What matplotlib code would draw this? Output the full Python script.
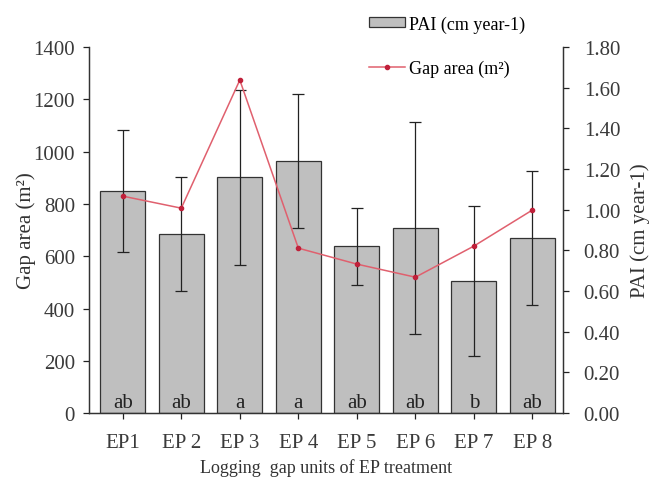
import numpy as np
import matplotlib
matplotlib.use("Agg")
import matplotlib.pyplot as plt

plt.rcParams["font.family"] = ["Liberation Serif", "DejaVu Serif"]
plt.rcParams["font.size"] = 13

# PAI per gap unit (bars, right axis) with error bars, and gap area (line, left axis)
units = ["EP1", "EP 2", "EP 3", "EP 4", "EP 5", "EP 6", "EP 7", "EP 8"]
pai = [1.09, 0.88, 1.16, 1.24, 0.82, 0.91, 0.65, 0.86]
pai_err = [0.30, 0.28, 0.43, 0.33, 0.19, 0.52, 0.37, 0.33]
gap_area = [830, 784, 1274, 631, 570, 520, 639, 777]
letters = ["ab", "ab", "a", "a", "ab", "ab", "b", "ab"]

fig = plt.figure(figsize=(6.53, 4.81), dpi=100)
ax = fig.add_axes([0.136, 0.139, 0.726, 0.761])
# gap area goes on a twin axis so the line sits above the bars
ax2 = ax.twinx()
x = np.arange(len(units))

bars = ax.bar(x, pai, width=0.77, color="#bfbfbf", edgecolor="#333333",
              linewidth=0.9, label="PAI (cm year-1)")
ax.errorbar(x, pai, yerr=pai_err, fmt="none", ecolor="#222222",
            elinewidth=0.9, capsize=4, capthick=0.9)
for xi, t in zip(x, letters):
    ax.text(xi, 0.008, t, ha="center", va="bottom", fontsize=15, color="#222222")

ax.set_ylim(0, 1.8)
ticks = np.arange(0, 1.81, 0.2)
ax.set_yticks(ticks)
ax.set_yticklabels([f"{v:.2f}" for v in ticks])
ax.yaxis.tick_right()
ax.yaxis.set_label_position("right")
ax.set_ylabel("PAI (cm year-1)", labelpad=7, color="#333333", fontsize=15)
ax.set_xlim(-0.58, 7.52)
ax.set_xticks(x)
ax.set_xticklabels(units)
ax.set_xlabel("Logging  gap units of EP treatment", labelpad=5, color="#333333")

line, = ax2.plot(x, gap_area, color="#e0606e", linewidth=1.1, marker="o",
                 markersize=3, markerfacecolor="#c0203a", markeredgecolor="#c0203a",
                 label="Gap area (m²)")
ax2.set_ylim(0, 1400)
ax2.set_yticks(np.arange(0, 1401, 200))
ax2.yaxis.tick_left()
ax2.yaxis.set_label_position("left")
ax2.set_ylabel("Gap area (m²)", labelpad=-2, color="#333333", fontsize=15)

for a in (ax, ax2):
    a.spines["top"].set_visible(False)
    a.tick_params(direction="out", length=4, width=0.9, colors="#222222",
                  labelcolor="#3a3a3a", labelsize=15)
    for s in a.spines.values():
        s.set_color("#333333")
        s.set_linewidth(0.9)
ax.tick_params(axis="y", pad=11)
ax.tick_params(axis="x", pad=10)
ax2.tick_params(axis="y", pad=6)

fig.legend(handles=[bars, line], loc="upper left", bbox_to_anchor=(0.54, 1.0),
           frameon=False, handlelength=2.0, handleheight=0.45, handletextpad=0.2,
           labelspacing=1.5, fontsize=13)

fig.savefig("out.png", dpi=100)
